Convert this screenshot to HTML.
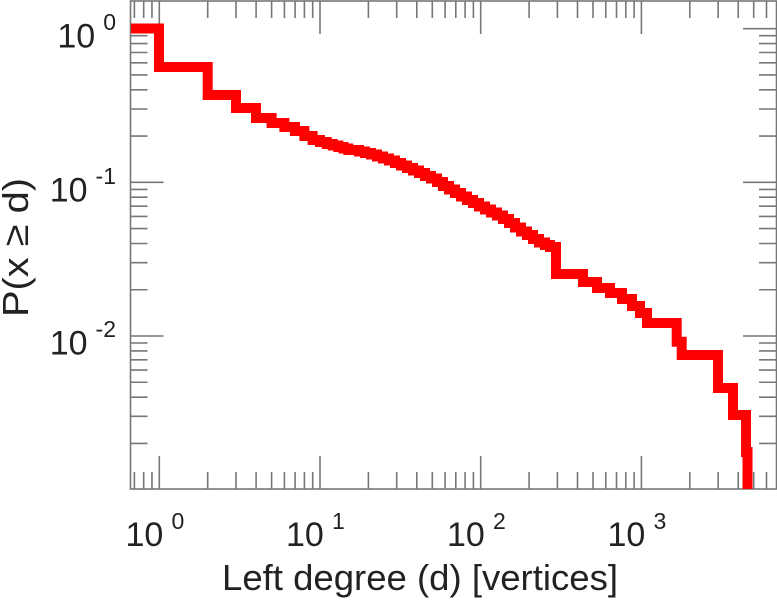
<!DOCTYPE html>
<html><head><meta charset="utf-8"><style>
html,body{margin:0;padding:0;background:#fff;}
svg{display:block;}
text{font-family:"Liberation Sans",Arial,sans-serif;fill:#222;}
</style></head><body>
<svg width="777" height="600" viewBox="0 0 777 600" xmlns="http://www.w3.org/2000/svg">
<defs><clipPath id="pc"><rect x="131" y="1" width="646" height="488"/></clipPath></defs>
<g stroke="#777" stroke-width="1.6" fill="none">
<rect x="130.5" y="1" width="646" height="488"/>
<path d="
M159.3,489V456 M320,489V456 M480.7,489V456 M641.4,489V456
M159.3,1V34 M320,1V34 M480.7,1V34 M641.4,1V34
M134.4,489V472 M143.7,489V472 M151.95,489V472
M207.7,489V472 M236,489V472 M256.1,489V472 M271.6,489V472 M284.4,489V472 M295.1,489V472 M304.4,489V472 M312.7,489V472
M368.4,489V472 M396.7,489V472 M416.8,489V472 M432.3,489V472 M445.1,489V472 M455.8,489V472 M465.1,489V472 M473.4,489V472
M529.1,489V472 M557.4,489V472 M577.5,489V472 M593,489V472 M605.8,489V472 M616.5,489V472 M625.8,489V472 M634.1,489V472
M689.8,489V472 M718.1,489V472 M738.2,489V472 M753.7,489V472 M766.5,489V472
M134.4,1V18 M143.7,1V18 M151.95,1V18
M207.7,1V18 M236,1V18 M256.1,1V18 M271.6,1V18 M284.4,1V18 M295.1,1V18 M304.4,1V18 M312.7,1V18
M368.4,1V18 M396.7,1V18 M416.8,1V18 M432.3,1V18 M445.1,1V18 M455.8,1V18 M465.1,1V18 M473.4,1V18
M529.1,1V18 M557.4,1V18 M577.5,1V18 M593,1V18 M605.8,1V18 M616.5,1V18 M625.8,1V18 M634.1,1V18
M689.8,1V18 M718.1,1V18 M738.2,1V18 M753.7,1V18 M766.5,1V18
M130.5,28.7H163.5 M130.5,182.35H163.5 M130.5,336H163.5
M776,28.7H743 M776,182.35H743 M776,336H743
M130.5,136.1H147.5 M130.5,109H147.5 M130.5,89.85H147.5 M130.5,74.95H147.5 M130.5,62.8H147.5 M130.5,52.5H147.5 M130.5,43.6H147.5 M130.5,35.7H147.5
M130.5,289.75H147.5 M130.5,262.7H147.5 M130.5,243.5H147.5 M130.5,228.6H147.5 M130.5,216.4H147.5 M130.5,206.15H147.5 M130.5,197.2H147.5 M130.5,189.4H147.5
M130.5,443.4H147.5 M130.5,416.3H147.5 M130.5,397.15H147.5 M130.5,382.25H147.5 M130.5,370.1H147.5 M130.5,359.8H147.5 M130.5,350.9H147.5 M130.5,343H147.5
M776,136.1H759 M776,109H759 M776,89.85H759 M776,74.95H759 M776,62.8H759 M776,52.5H759 M776,43.6H759 M776,35.7H759
M776,289.75H759 M776,262.7H759 M776,243.5H759 M776,228.6H759 M776,216.4H759 M776,206.15H759 M776,197.2H759 M776,189.4H759
M776,443.4H759 M776,416.3H759 M776,397.15H759 M776,382.25H759 M776,370.1H759 M776,359.8H759 M776,350.9H759 M776,343H759
"/>
</g>
<polyline clip-path="url(#pc)" fill="none" stroke="#ff0000" stroke-width="10" stroke-linejoin="miter" stroke-linecap="butt" points="
125,28.5 159,28.5 159,67 207.7,67 207.7,95 236,95 236,108 256,108 256,118 271.6,118 271.6,123 284.4,123 284.4,127 295,127 295,131 304.4,131 304.4,136 312.6,136 312.6,140 320,140 320,142 326.7,142 326.7,144 332.7,144 332.7,145.5 338.3,145.5 338.3,147 343.5,147 343.5,148.5 348.3,148.5 348.3,150
359,150 359,151.5 365,151.5 365,153 371,153 371,154.5 377,154.5 377,156.5 383,156.5 383,158.5 389,158.5 389,160.5 395,160.5 395,163 401,163 401,165.5 407,165.5 407,168 413,168 413,170.5 419,170.5 419,173 425,173 425,176 431,176 431,178.5 437,178.5 437,182 443,182 443,186 449,186 449,189.5 455,189.5 455,193 461,193 461,196.5 467,196.5 467,200 473,200 473,203 479,203 479,206.5 485,206.5 485,209.5 491,209.5 491,212.5 497,212.5 497,215.5 503,215.5 503,219 509,219 509,223 515,223 515,227.5 521,227.5 521,231.5 527,231.5 527,235 533,235 533,239 539,239 539,242.5 545,242.5 545,245 550,245 550,247 556,247 556,274
583,274 583,282 597,282 597,288 610,288 610,293 622,293 622,299 632,299 632,306 640,306 640,313 647,313 647,323 676.7,323 676.7,341.7 681.7,341.7 681.7,355 718,355 718,388 733,388 733,415 746,415 746,452 747.5,452 747.5,500"/>
<g font-size="34">
<text x="116" y="47.7" text-anchor="end">10<tspan dx="8" dy="-17.5" font-size="23">0</tspan></text>
<text x="116" y="201.3" text-anchor="end">10<tspan dx="8" dy="-17.5" font-size="23">-1</tspan></text>
<text x="116" y="354.5" text-anchor="end">10<tspan dx="8" dy="-17.5" font-size="23">-2</tspan></text>
</g>
<g font-size="34">
<text x="125.5" y="546">10</text><text x="171.5" y="529" font-size="23">0</text>
<text x="286" y="546">10</text><text x="332" y="529" font-size="23">1</text>
<text x="447" y="546">10</text><text x="493" y="529" font-size="23">2</text>
<text x="607.5" y="546">10</text><text x="653.5" y="529" font-size="23">3</text>
</g>
<text x="420" y="590" font-size="36" text-anchor="middle" textLength="396" lengthAdjust="spacingAndGlyphs">Left degree (d) [vertices]</text>
<text transform="translate(28,247.5) rotate(-90)" x="0" y="0" font-size="36" text-anchor="middle" textLength="139" lengthAdjust="spacingAndGlyphs">P(x ≥ d)</text>
</svg>
</body></html>
